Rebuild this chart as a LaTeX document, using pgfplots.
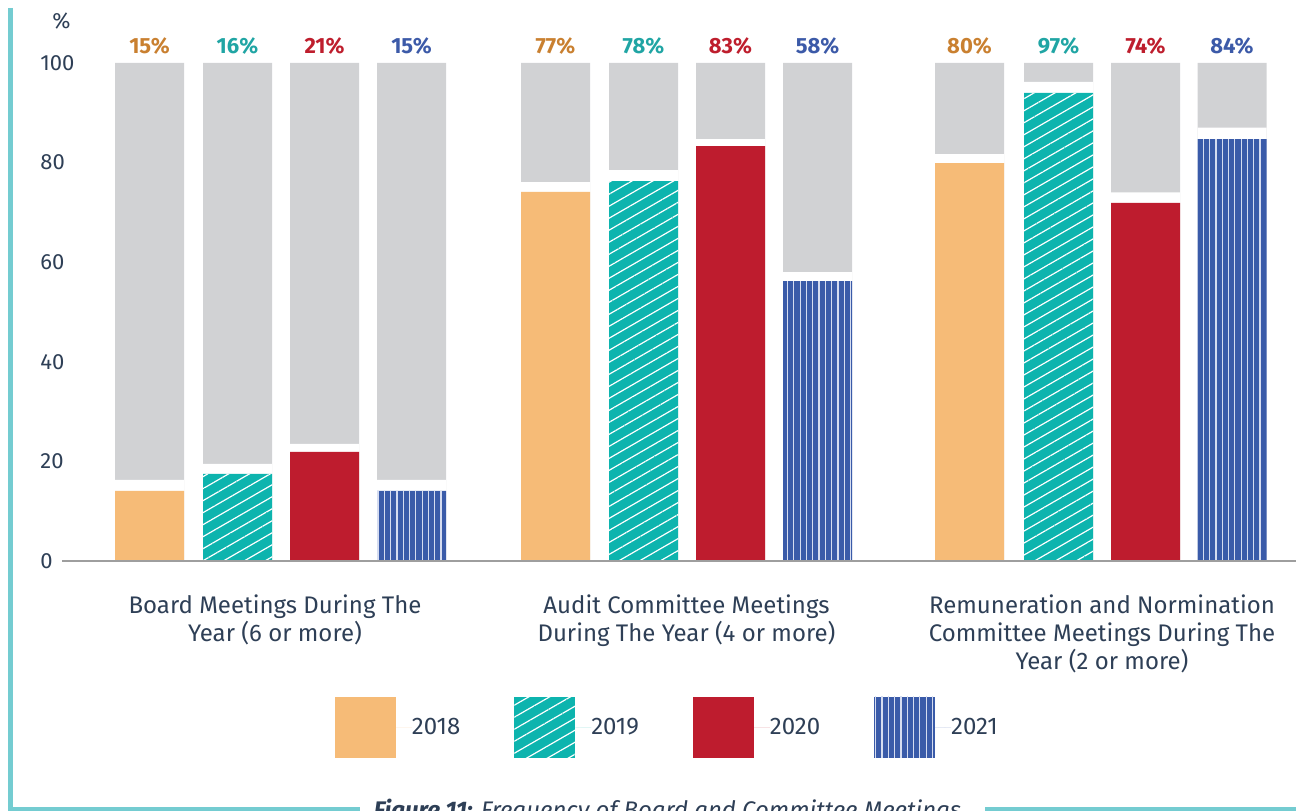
\documentclass[border=0pt]{standalone}
\usepackage{pgfplots}
\pgfplotsset{compat=1.18}
\usepackage{fontspec}
\setmainfont{Fira Sans}
\usetikzlibrary{patterns.meta}
\definecolor{cA}{HTML}{F6BB77}
\definecolor{cB}{HTML}{0DB4AE}
\definecolor{cC}{HTML}{BE1C2E}
\definecolor{cD}{HTML}{3A5BA9}
\definecolor{cgray}{HTML}{D1D2D4}
\definecolor{lA}{HTML}{C98030}
\definecolor{lB}{HTML}{20A5A4}
\definecolor{lC}{HTML}{BE1E2D}
\definecolor{lD}{HTML}{3C5AA8}
\definecolor{textc}{HTML}{2E3F56}
\definecolor{framec}{HTML}{74CCD1}
\definecolor{axisc}{HTML}{9E9E9E}
\definecolor{stripe}{HTML}{D5DCF0}
\pgfplotsset{bigsquare/.style={legend image code/.code={\draw[##1,draw=none] (0pt,-15.25pt) rectangle (30.5pt,15.25pt); \path (30.5pt,0pt) -- (38.5pt,0pt);}}}
\begin{document}
\begin{tikzpicture}
\useasboundingbox (0,0) rectangle (648pt,405pt);
\clip (0,0) rectangle (648pt,405pt);
\begin{axis}[
  at={(31pt,124.5pt)}, anchor=south west,
  scale only axis, width=617pt, height=249pt,
  xmin=62, xmax=1296, ymin=0, ymax=100,
  clip=false, axis on top,
  axis x line*=bottom, axis y line*=left,
  x axis line style={draw=axisc, line width=1pt, -},
  y axis line style={draw=none},
  xtick=\empty,
  ytick={0,20,40,60,80,100},
  major tick length=0pt,
  /pgf/number format/assume math mode=true,
  yticklabel style={anchor=west, inner xsep=0pt, xshift=-11pt, font=\fontsize{11}{13}\selectfont, text=textc},
  legend style={at={(axis description cs:0.2212,-0.3343)}, anchor=west, draw=none, fill=none,
    inner sep=0pt, outer sep=0pt, legend columns=4, font=\fontsize{12}{14}\selectfont, text=textc,
    /tikz/every even column/.append style={column sep=27pt},
    nodes={inner sep=0pt, anchor=west}},
  ybar, bar width=69, bar shift=0pt,
  point meta=explicit symbolic,
]
% grey remainder bars with the percentage labels
\addplot[fill=cgray, draw=none, forget plot, nodes near coords,
  nodes near coords style={text=lA, font=\bfseries\fontsize{11}{13}\selectfont, anchor=base, yshift=4.5pt}]
  coordinates {(149.5,100)[15\%] (555.5,100)[77\%] (969.5,100)[80\%]};
\addplot[fill=cgray, draw=none, forget plot, nodes near coords,
  nodes near coords style={text=lB, font=\bfseries\fontsize{11}{13}\selectfont, anchor=base, yshift=4.5pt}]
  coordinates {(237.5,100)[16\%] (643.5,100)[78\%] (1058.5,100)[97\%]};
\addplot[fill=cgray, draw=none, forget plot, nodes near coords,
  nodes near coords style={text=lC, font=\bfseries\fontsize{11}{13}\selectfont, anchor=base, yshift=4.5pt}]
  coordinates {(324.5,100)[21\%] (730.5,100)[83\%] (1145.5,100)[74\%]};
\addplot[fill=cgray, draw=none, forget plot, nodes near coords,
  nodes near coords style={text=lD, font=\bfseries\fontsize{11}{13}\selectfont, anchor=base, yshift=4.5pt}]
  coordinates {(411.5,100)[15\%] (817.5,100)[58\%] (1232,100)[84\%]};
% white gap below the grey part
\addplot[fill=white, draw=none, forget plot] coordinates {
  (149.5,16.3) (555.5,76.1) (969.5,81.7)
  (237.5,19.5) (643.5,78.5) (1058.5,96.2)
  (324.5,23.5) (730.5,84.7) (1145.5,74.0)
  (411.5,16.3) (817.5,58.0) (1232,87.0)};
% coloured bars
\addplot[fill=cA, draw=none, bigsquare] coordinates {(149.5,14.1) (555.5,74.1) (969.5,79.9)};
\addlegendentry{2018}
\addplot[fill=cB, draw=none, bigsquare, postaction={pattern={Lines[angle=30,distance=5.2pt,line width=0.6pt]}, pattern color=white}]
  coordinates {(237.5,17.5) (643.5,76.3) (1058.5,94.0)};
\addlegendentry{2019}
\addplot[fill=cC, draw=none, bigsquare] coordinates {(324.5,21.9) (730.5,83.3) (1145.5,71.9)};
\addlegendentry{2020}
\addplot[fill=cD, draw=none, bigsquare, postaction={pattern={Lines[angle=90,distance=3.15pt,line width=0.6pt]}, pattern color=stripe}]
  coordinates {(411.5,14.1) (817.5,56.2) (1232,84.7)};
\addlegendentry{2021}
\end{axis}
\begin{scope}[x=0.5pt,y=-0.5pt,shift={(0pt,405pt)}]
\node[font=\fontsize{11}{13}\selectfont, text=textc, inner sep=0pt] at (61.5,21) {\%};
\begin{scope}[font=\fontsize{12}{14}\selectfont, text=textc]
\node[anchor=north, align=center, inner sep=0pt] at (275,594) {Board Meetings During The\\Year (6 or more)};
\node[anchor=north, align=center, inner sep=0pt] at (686.5,594) {Audit Committee Meetings\\During The Year (4 or more)};
\node[anchor=north, align=center, inner sep=0pt] at (1102,594) {Remuneration and Normination\\Committee Meetings During The\\Year (2 or more)};
\end{scope}
\draw[framec, line width=2.25pt, line join=miter] (10.5,8) -- (10.5,809.5) -- (360,809.5);
\draw[framec, line width=2.25pt] (985,809.5) -- (1296,809.5);
\node[anchor=north, inner sep=0pt, font=\fontsize{12}{14}\selectfont\itshape, text=textc] at (667.5,799) {\textbf{Figure 11:} Frequency of Board and Committee Meetings};
\end{scope}
\end{tikzpicture}
\end{document}
